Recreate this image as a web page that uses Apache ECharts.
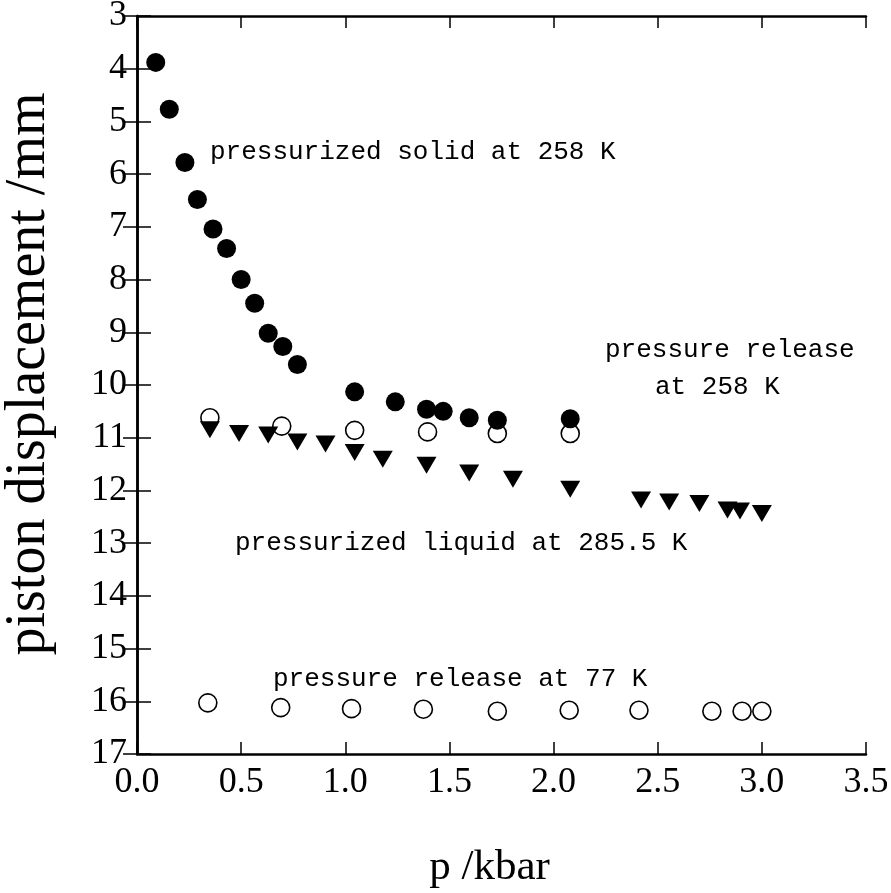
<!DOCTYPE html>
<html>
<head>
<meta charset="utf-8">
<script src="https://cdn.jsdelivr.net/npm/echarts@6/dist/echarts.min.js"></script>
<style>
  html, body { margin: 0; padding: 0; background: #fff; }
  #chart { width: 891px; height: 893px; }
</style>
</head>
<body>
<div id="chart"></div>
<script>
  // pressurized solid at 258 K (filled circles)
  const solidP = [0.09, 0.155, 0.23, 0.29, 0.365, 0.43, 0.5, 0.565, 0.63, 0.70, 0.77, 1.045, 1.24, 1.39, 1.47, 1.595, 1.73, 2.08]
  const solidD = [3.88, 4.77, 5.78, 6.48, 7.04, 7.41, 8.0, 8.45, 9.02, 9.27, 9.61, 10.13, 10.32, 10.46, 10.5, 10.62, 10.67, 10.64]

  // pressure release at 258 K (open circles)
  const release258P = [0.35, 0.695, 1.045, 1.395, 1.73, 2.08]
  const release258D = [10.62, 10.78, 10.86, 10.89, 10.92, 10.92]

  // pressurized liquid at 285.5 K (filled triangles)
  const liquidP = [0.35, 0.49, 0.63, 0.77, 0.905, 1.045, 1.18, 1.39, 1.595, 1.805, 2.08, 2.42, 2.555, 2.70, 2.835, 2.895, 3.0]
  const liquidD = [10.85, 10.92, 10.95, 11.08, 11.12, 11.28, 11.41, 11.52, 11.67, 11.79, 11.98, 12.18, 12.22, 12.25, 12.37, 12.39, 12.44]

  // pressure release at 77 K (open circles)
  const release77P = [0.34, 0.69, 1.03, 1.375, 1.73, 2.075, 2.41, 2.76, 2.905, 3.0]
  const release77D = [16.03, 16.12, 16.14, 16.15, 16.19, 16.17, 16.17, 16.19, 16.19, 16.19]

  const pair = (xs, ys) => xs.map((x, i) => [x, ys[i]])

  const serif = 'Liberation Serif'
  const mono = 'Liberation Mono'

  const axisLine = { lineStyle: { color: '#000', width: 2.5 } }
  const tick = (len) => ({ inside: true, length: len, lineStyle: { color: '#000', width: 1.5 } })
  const openCircle = { color: 'rgba(255,255,255,0)', borderColor: '#000', borderWidth: 1.6, opacity: 1 }

  const chart = echarts.init(document.getElementById('chart'))

  const option = {
    backgroundColor: '#fff',
    animation: false,
    grid: { left: 137, right: 25, top: 16, bottom: 139, containLabel: false, outerBoundsMode: 'none' },
    xAxis: [
      {
        type: 'value',
        min: 0,
        max: 3.5,
        interval: 0.5,
        name: 'p /kbar',
        nameLocation: 'middle',
        nameGap: 92,
        nameTextStyle: { fontFamily: serif, fontSize: 43, color: '#000', padding: [0, 24, 0, 0] },
        axisLine: axisLine,
        axisTick: tick(12),
        splitLine: { show: false },
        axisLabel: {
          margin: 11,
          fontFamily: serif,
          fontSize: 36,
          color: '#000',
          formatter: (v) => v.toFixed(1)
        }
      },
      {
        type: 'value',
        position: 'top',
        min: 0,
        max: 3.5,
        interval: 0.5,
        axisLine: axisLine,
        axisTick: tick(12),
        axisLabel: { show: false },
        splitLine: { show: false }
      }
    ],
    yAxis: [
      {
        type: 'value',
        inverse: true,
        min: 3,
        max: 17,
        interval: 1,
        name: 'piston displacement /mm',
        nameLocation: 'middle',
        nameGap: 80,
        nameTextStyle: { fontFamily: serif, fontSize: 56, color: '#000', padding: [0, 0, 0, 22] },
        axisLine: axisLine,
        axisTick: tick(14),
        splitLine: { show: false },
        axisLabel: { margin: 10, fontFamily: serif, fontSize: 36, color: '#000' }
      },
      {
        type: 'value',
        position: 'right',
        inverse: true,
        min: 3,
        max: 17,
        interval: 1,
        axisLine: axisLine,
        axisTick: tick(14),
        axisLabel: { show: false },
        splitLine: { show: false }
      }
    ],
    series: [
      {
        type: 'scatter',
        data: pair(release258P, release258D),
        symbol: 'circle',
        symbolSize: 18,
        itemStyle: openCircle
      },
      {
        type: 'scatter',
        data: pair(release77P, release77D),
        symbol: 'circle',
        symbolSize: 18,
        itemStyle: openCircle
      },
      {
        type: 'scatter',
        data: pair(solidP, solidD),
        symbol: 'circle',
        symbolSize: 19,
        itemStyle: { color: '#000', opacity: 1 }
      },
      {
        type: 'scatter',
        data: pair(liquidP, liquidD),
        symbol: 'triangle',
        symbolRotate: 180,
        symbolSize: [20, 17],
        itemStyle: { color: '#000', opacity: 1 }
      }
    ],
    graphic: [
      { type: 'text', left: 210, top: 139, style: { text: 'pressurized solid at 258 K', font: '26px ' + mono, fill: '#000' } },
      { type: 'text', left: 605, top: 337, style: { text: 'pressure release', font: '26px ' + mono, fill: '#000' } },
      { type: 'text', left: 655, top: 374, style: { text: 'at 258 K', font: '26px ' + mono, fill: '#000' } },
      { type: 'text', left: 235, top: 530, style: { text: 'pressurized liquid at 285.5 K', font: '26px ' + mono, fill: '#000' } },
      { type: 'text', left: 273, top: 666, style: { text: 'pressure release at 77 K', font: '26px ' + mono, fill: '#000' } }
    ]
  }

  chart.setOption(option)
</script>
</body>
</html>
